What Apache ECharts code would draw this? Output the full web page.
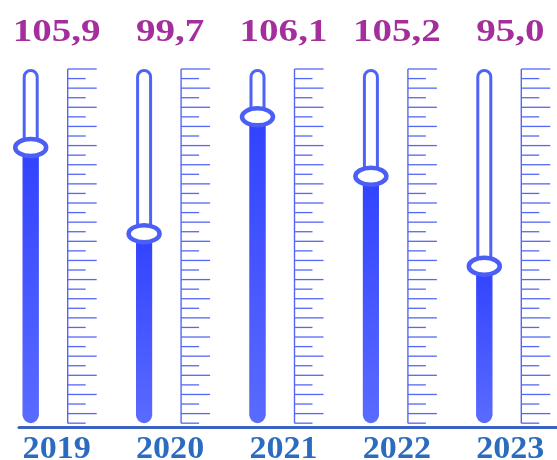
<!DOCTYPE html>
<html>
<head>
<meta charset="utf-8">
<script src="https://cdn.jsdelivr.net/npm/echarts@6/dist/echarts.min.js"></script>
<style>
html, body { margin: 0; padding: 0; background: #fff; }
#main { width: 557px; height: 460px; }
</style>
</head>
<body>
<div id="main"></div>
<script>
var years = ['2019', '2020', '2021', '2022', '2023'];
var valueLabels = ['105,9', '99,7', '106,1', '105,2', '95,0'];
// level of the fill in each thermometer, in ruler divisions (0 = bottom, 37 = top tick)
var levels = [28.8, 19.8, 32.0, 25.8, 16.4];
var rulerTop = 37;

var dom = document.getElementById('main');
var myChart = echarts.init(dom);

var tubeColor = '#4f63f5';
var rulerColor = '#5567f5';
var serif = '"Liberation Serif", "Times New Roman", Times, serif';

function renderThermo(params, api) {
    var i = api.value(0);
    var base = api.coord([i, 0]);
    var top = api.coord([i, rulerTop]);
    var knob = api.coord([i, api.value(1)]);
    var c = base[0];
    var tx = c - 28;      // tube centre
    var rx = c + 9;       // ruler line
    var kids = [];

    // glass tube
    kids.push({
        type: 'rect',
        shape: { x: tx - 6.5, y: top[1] + 1.5, width: 13, height: base[1] - top[1] - 10, r: [6.5, 6.5, 0, 0] },
        style: { fill: '#fff', stroke: tubeColor, lineWidth: 3 }
    });
    // liquid
    kids.push({
        type: 'rect',
        shape: { x: tx - 8, y: knob[1], width: 16, height: base[1] - knob[1], r: [0, 0, 8, 8] },
        style: {
            fill: new echarts.graphic.LinearGradient(0, 0, 0, 1, [
                { offset: 0, color: '#3142ff' },
                { offset: 1, color: '#5a6bff' }
            ])
        }
    });
    // knob
    kids.push({
        type: 'ellipse',
        shape: { cx: tx, cy: knob[1], rx: 15.5, ry: 8.5 },
        style: { fill: '#fff', stroke: '#4b5ff7', lineWidth: 4.5 }
    });
    // ruler
    kids.push({
        type: 'line',
        shape: { x1: rx, y1: top[1], x2: rx, y2: base[1] },
        style: { stroke: rulerColor, lineWidth: 1.4 }
    });
    for (var k = 0; k <= rulerTop; k++) {
        var y = api.coord([i, k])[1];
        kids.push({
            type: 'line',
            shape: { x1: rx, y1: y, x2: rx + (k % 2 ? 29 : 18), y2: y },
            style: { stroke: rulerColor, lineWidth: 1.3 }
        });
    }
    // value on top
    kids.push({
        type: 'text',
        x: c - 2, y: top[1] - 36, scaleX: 1.22,
        style: {
            text: valueLabels[i], fill: '#a42e9c',
            fontFamily: serif, fontSize: 32, fontWeight: 'bold',
            align: 'center', verticalAlign: 'middle'
        }
    });
    // year below
    kids.push({
        type: 'text',
        x: c - 2, y: base[1] + 27, scaleX: 1.1,
        style: {
            text: years[i], fill: '#2b6cbf',
            fontFamily: serif, fontSize: 31, fontWeight: 'bold',
            align: 'center', verticalAlign: 'middle'
        }
    });
    return { type: 'group', children: kids };
}

option = {
    animation: false,
    grid: [
        { left: 2, width: 567, top: 69, bottom: 33, outerBoundsMode: 'none' },
        { left: 19, right: 0, top: 69, bottom: 33, outerBoundsMode: 'none' }
    ],
    xAxis: [
        {
            type: 'category', gridIndex: 0, data: years,
            axisLine: { show: false }, axisTick: { show: false }, axisLabel: { show: false }
        },
        {
            type: 'value', gridIndex: 1, min: 0, max: 1,
            axisLine: { show: true, lineStyle: { color: '#3a62c2', width: 3 } },
            axisTick: { show: false }, axisLabel: { show: false }, splitLine: { show: false }
        }
    ],
    yAxis: [
        { type: 'value', gridIndex: 0, min: -0.4, max: rulerTop, show: false },
        { type: 'value', gridIndex: 1, min: 0, max: 1, show: false }
    ],
    series: [{
        type: 'custom',
        xAxisIndex: 0,
        yAxisIndex: 0,
        renderItem: renderThermo,
        data: levels.map(function (v, i) { return [i, v]; })
    }]
};

if (option && typeof option === 'object') {
    myChart.setOption(option, true);
}
</script>
</body>
</html>
